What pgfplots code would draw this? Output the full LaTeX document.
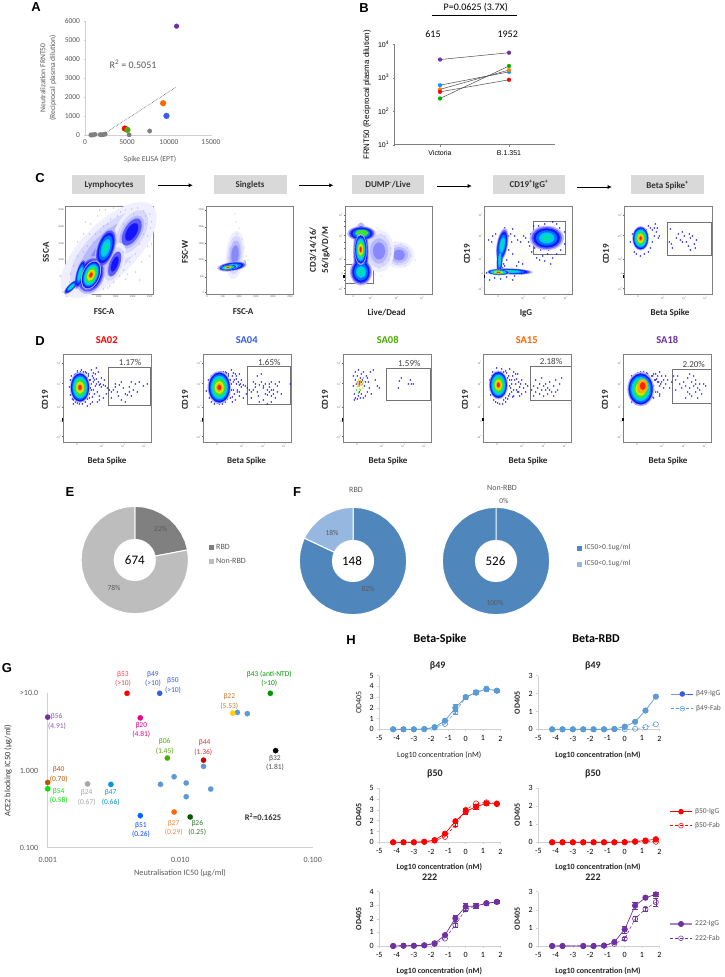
\documentclass[border=0pt]{standalone}
\usepackage{fontspec}
\usepackage{pgfplots}
\pgfplotsset{compat=1.18}
\usetikzlibrary{arrows.meta}
\setmainfont{Carlito}
\newfontfamily\ars{Liberation Sans}
\newcommand\fs[1]{\fontsize{#1}{#1}\selectfont}
% text at reference pixel position
\newcommand\T[4][]{\node[inner sep=0pt,#1] at (#2pt,{(977-#3)*1pt}) {#4};}
\definecolor{gtxt}{HTML}{595959}
\definecolor{gln}{HTML}{D0D0D0}
\definecolor{cP}{HTML}{7030A0}
\definecolor{cB}{HTML}{5B9BD5}
\definecolor{c1}{HTML}{1414FF}
\definecolor{c2}{HTML}{0070FF}
\definecolor{c3}{HTML}{00C8FF}
\definecolor{c4}{HTML}{00E0A0}
\definecolor{c5}{HTML}{40E030}
\definecolor{c6}{HTML}{D0F000}
\definecolor{c7}{HTML}{FFB000}
\definecolor{c8}{HTML}{FF2000}
% one density level: x y rx ry rot factor colour
\newcommand\lv[7]{\addplot[forget plot,only marks,mark=*,mark size=#6*#4pt,mark options={draw=#7,fill=#7,line width=.1pt,rotate=#5,xscale=#3/#4}] coordinates {(#1,#2)};}
\newcommand\dens[5]{\lv{#1}{#2}{#3}{#4}{#5}{1.1}{c1!35}\lv{#1}{#2}{#3}{#4}{#5}{1}{c1}\lv{#1}{#2}{#3}{#4}{#5}{.88}{c2}\lv{#1}{#2}{#3}{#4}{#5}{.77}{c3}\lv{#1}{#2}{#3}{#4}{#5}{.66}{c4}\lv{#1}{#2}{#3}{#4}{#5}{.54}{c5}\lv{#1}{#2}{#3}{#4}{#5}{.42}{c6}\lv{#1}{#2}{#3}{#4}{#5}{.3}{c7}\lv{#1}{#2}{#3}{#4}{#5}{.18}{c8}}
% several shapes merged into one silhouette, level by level
\newcommand\passes[1]{%
 \def\S##1##2##3##4##5{\lv{##1}{##2}{##3}{##4}{##5}{1.22}{c1!30}}#1%
 \def\S##1##2##3##4##5{\lv{##1}{##2}{##3}{##4}{##5}{1.08}{c1!70}}#1%
 \def\S##1##2##3##4##5{\lv{##1}{##2}{##3}{##4}{##5}{.94}{c1}}#1%
 \def\S##1##2##3##4##5{\lv{##1}{##2}{##3}{##4}{##5}{.76}{c2}}#1%
 \def\S##1##2##3##4##5{\lv{##1}{##2}{##3}{##4}{##5}{.54}{c3}}#1%
 \def\S##1##2##3##4##5{\lv{##1}{##2}{##3}{##4}{##5}{.32}{c4}}#1}
\newcommand\pale[5]{\lv{#1}{#2}{#3}{#4}{#5}{1}{c1!7}\lv{#1}{#2}{#3}{#4}{#5}{.8}{c1!16}\lv{#1}{#2}{#3}{#4}{#5}{.6}{c1!30}\lv{#1}{#2}{#3}{#4}{#5}{.4}{c1!50}}
\newcommand\pts[3]{\addplot[forget plot,only marks,mark=*,mark size=#2pt,mark options={draw=#1,fill=#1,line width=.1pt}] coordinates {#3};}
\newcommand\gate[1]{\addplot[forget plot,draw=gray!90!black,line width=.6pt,mark=none] coordinates {#1};}
% dots close around the main population of the D plots
\newcommand\halo{\pts{c1}{.7}{(6,55)(7,47)(8,66)(9,60)(10,42)(12,40)(14,39)(16,38)(19,38)(22,40)(24,43)(26,48)(27,54)(28,58)(26,62)(25,66)(23,69)(20,70)(17,70)(14,69)(11,67)(29,45)(30,52)(31,62)(33,63)(35,60)(37,58)(34,50)(36,46)(29,66)(32,68)}}
\pgfplotsset{
 dot/.style={only marks,mark=*,mark size=2.7pt,mark options={draw=#1,fill=#1,line width=.1pt}},
 sq/.style={forget plot,only marks,mark=square*,mark size=2pt,mark options={draw=#1,fill=#1,line width=.1pt}},
 flow/.style={scale only axis,width=87.5pt,height=88pt,xmin=0,xmax=87.5,ymin=0,ymax=88,clip mode=global,axis on top,
  axis line style={draw=gray,line width=.6pt},tick style={draw=gray!80!black,line width=.25pt},tick align=outside,
  major tick length=1.2pt,minor tick length=.8pt,xtick pos=bottom,ytick pos=left,
  tick label style={font=\fs{2.7},text=black!60,inner sep=.5pt},/pgf/number format/assume math mode=true},
 linY/.style={xtick={1,16.7,33,49.7,67,84},xticklabels={0,50K,100K,150K,200K,250K},ytick={1.5,17.3,34,50.7,67.3,84},yticklabels={0,50K,100K,150K,200K,250K}},
 logY/.style={ytick={5.5,20.5,34.7,58.5,79.3},yticklabels={-10\textsuperscript{3},0,10\textsuperscript{3},10\textsuperscript{4},10\textsuperscript{5}},minor ytick={14,17,24,28,46,52,68,73}},
 logX/.style={xtick={13.7,38.5,60,81},xticklabels={0,10\textsuperscript{3},10\textsuperscript{4},10\textsuperscript{5}},minor xtick={4,6,8,10,12,15,17,19,30,34,50,55,72,76}},
 od/.style={scale only axis,width=121pt,xmin=-5,xmax=2,xtick={-5,...,2},axis x line=bottom,axis y line=left,
  axis line style={-,draw=gln,line width=.7pt},tick style={draw=gln,line width=.5pt},tick align=outside,major tick length=2pt,
  tick label style={font=\fs{8}},ymin=0,clip=false,/pgf/number format/assume math mode=true,
  xticklabel style={yshift=-1pt}},
 ig/.style={#1,line width=.7pt,mark=*,mark size=2.7pt,mark options={solid,fill=#1,draw=#1},error bars/.cd,y dir=both,y explicit,error bar style={#1,line width=.5pt}},
 fab/.style={#1,densely dashed,line width=.5pt,mark=o,mark size=2.6pt,mark options={solid,draw=#1,line width=.6pt},error bars/.cd,y dir=both,y explicit,error bar style={solid,#1,line width=.5pt}},
 pie/.style={scale only axis,width=107.4pt,height=107.4pt,xmin=-1,xmax=1,ymin=-1,ymax=1,hide axis,clip=false},
 wedge/.style={forget plot,fill=#1,draw=white,line width=1pt,data cs=polar},
 hole/.style={forget plot,only marks,mark=*,mark size=21pt,mark options={draw=white,fill=white,line width=.1pt}},
 key/.style={scale only axis,width=22pt,xmin=0,xmax=22,ymin=0,hide axis,clip=false},
}
\begin{document}
\begin{tikzpicture}
\path[use as bounding box,fill=white] (0,0) rectangle (724pt,977pt);

% ---- A
\begin{axis}[name=a,at={(85pt,842pt)},anchor=south west,scale only axis,width=126pt,height=113.5pt,
 xmin=0,xmax=15000,ymin=0,ymax=6000,xtick={0,5000,10000,15000},ytick={0,1000,...,6000},axis x line=bottom,axis y line=left,
 axis line style={-,draw=gln,line width=.6pt},tick style={draw=gln},tick align=outside,major tick length=1.5pt,clip=false,
 tick label style={font=\fs{7.5},text=gtxt},scaled ticks=false,/pgf/number format/.cd,1000 sep={},assume math mode=true]
\addplot[black!65,densely dotted,line width=.6pt] coordinates {(2400,100) (10800,2520)};
\addplot[dot=black!50,mark size=2.3pt] coordinates {(700,0)(850,0)(1000,10)(1200,30)(1800,20)(2000,10)(2200,20)(2400,50)(5250,10)(7700,210)};
\addplot[dot=red,mark size=3pt] coordinates {(4750,340)};
\addplot[dot=green!45!black!60!lime,mark size=3pt] coordinates {(5050,270)};
\addplot[dot=orange!80!red,mark size=3pt] coordinates {(9300,1680)};
\addplot[dot=blue!40!cB,mark size=3pt] coordinates {(9700,1010)};
\addplot[dot=cP,mark size=2.5pt] coordinates {(10900,5750)};
\end{axis}

% ---- B
\begin{axis}[at={(394.7pt,832.3pt)},anchor=south west,scale only axis,width=160.3pt,height=100.4pt,
 xmin=-0.657,xmax=1.667,ymin=10,ymax=10000,ymode=log,xtick={0,1},xticklabels={Victoria,B.1.351},
 ytick={10,100,1000,10000},yticklabels={10\textsuperscript{1},10\textsuperscript{2},10\textsuperscript{3},10\textsuperscript{4}},
 minor y tick num=0,yminorticks=false,axis x line=bottom,axis y line=left,axis line style={-,draw=black!50,line width=.6pt},tick style={draw=black!50},tick align=outside,major tick length=2pt,
 tick label style={font=\ars\fs{7}},clip=false]
\addplot[black!70,line width=.5pt,mark=*,mark size=2pt,mark options={draw=cP,fill=cP,line width=.1pt}] coordinates {(0,3500)(1,5600)};
\addplot[black!70,line width=.5pt,mark=*,mark size=2pt,mark options={draw=blue!40!cyan,fill=blue!40!cyan,line width=.1pt}] coordinates {(0,600)(1,1500)};
\addplot[black!70,line width=.5pt,mark=*,mark size=2pt,mark options={draw=orange,fill=orange,line width=.1pt}] coordinates {(0,450)(1,1700)};
\addplot[black!70,line width=.5pt,mark=*,mark size=2pt,mark options={draw=red,fill=red,line width=.1pt}] coordinates {(0,380)(1,870)};
\addplot[black!70,line width=.5pt,mark=*,mark size=2pt,mark options={draw=green!70!black,fill=green!70!black,line width=.1pt}] coordinates {(0,240)(1,2250)};
\end{axis}

% ---- C flow plots
\begin{axis}[flow,linY,at={(65.7pt,683pt)},anchor=south west]
\pale{43}{44}{62}{27}{45}
\pale{66}{62}{16}{30}{-30}
\pale{48}{30}{10}{22}{-20}
\pts{c1!45}{.4}{(5,20)(8,28)(12,38)(18,42)(22,48)(28,52)(30,60)(35,62)(38,68)(42,70)(45,75)(52,78)(55,82)(60,84)(66,85)(72,86)(78,83)(84,80)(80,70)(85,66)(78,60)(74,50)(82,48)(70,40)(64,32)(58,24)(54,18)(48,12)(60,15)(44,8)(38,5)(30,4)(70,22)(76,32)(84,38)(25,70)(18,60)(12,52)(20,72)(32,78)(40,84)(48,86)(58,70)(62,50)(50,50)(55,58)(30,42)(26,38)(35,30)(58,42)(65,55)(72,72)(80,78)(86,72)(10,15)(4,12)(48,62)(44,55)(38,58)(15,30)(24,60)(68,80)(75,65)(82,58)(52,30)(62,20)(42,6)(74,14)(86,50)(34,84)}
\lv{66}{62}{7.5}{15}{-30}{1}{c1!70}\lv{66}{62}{7.5}{15}{-30}{.65}{c1}\lv{49}{30}{5}{13}{-20}{1}{c1!70}\lv{49}{30}{5}{13}{-20}{.6}{c1}
\passes{\S{40}{46}{7.5}{17}{-18}\S{5.5}{7}{2.6}{8}{-45}\S{14.5}{20}{3.4}{13}{-15}\S{25}{19}{11}{16}{-22}}
\dens{25.3}{19}{8}{14}{-22}
\gate{(17.7,10.7)(16.7,20.7)(21.7,30.7)(29.3,34)(36,29)(38.3,20.7)(32.7,12.3)(22.7,8)(17.7,10.7)}
\end{axis}

\begin{axis}[flow,linY,at={(206pt,683pt)},anchor=south west]
\pale{29}{39}{9}{24}{-5}
\pts{c1!45}{.4}{(24,45)(28,52)(31,60)(33,66)(30,72)(34,40)(38,46)(27,38)(22,36)(36,55)(40,38)(42,34)(29,80)}
\passes{\S{26}{27.5}{12}{3.6}{8}}
\dens{22}{26.5}{8}{2.1}{8}
\gate{(14,24)(39.7,28)(39,33.3)(15,27.3)(14,24)}
\end{axis}

\begin{axis}[flow,logY,xtick={8.3,25.7,51.7,77},xticklabels={0,10\textsuperscript{3},10\textsuperscript{4},10\textsuperscript{5}},at={(345pt,683pt)},anchor=south west]
\pale{54}{39}{15}{13}{0}
\pale{34}{43}{15}{21}{0}
\pts{c1!45}{.4}{(32,66)(36,60)(40,58)(34,52)(42,50)(46,46)(50,52)(56,50)(62,46)(66,38)(70,34)(60,28)(52,30)(44,34)(38,30)(34,26)(30,20)(36,18)(46,40)(58,36)}
\passes{\S{16}{22}{9}{11}{0}\S{16}{42}{6.5}{24}{0}\S{16.5}{60.5}{11.5}{6}{0}}
\lv{17}{61}{6.5}{3}{0}{1}{c5}
\dens{15.7}{44.5}{5.5}{14}{0}
\gate{(0,29.7)(28.3,29.7)(28.3,10.7)(0,10.7)}
\end{axis}

\begin{axis}[flow,logY,logX,at={(484.7pt,683pt)},anchor=south west]
\pts{c1}{.7}{(8,58)(11,60)(7,52)(4,54)(22,62)(24,58)(26,60)(20,66)(27,52)(22,48)(24,44)(20,40)(19,30)(18,26)(20,28)(13,36)(22,34)(28,65)(30,58)(33,54)(36,52)(39,58)(41,56)(44,52)(46,60)(45,48)(47,42)(50,62)(50,46)(52,36)(55,34)(58,38)(63,40)(68,36)(66,30)(60,33)(72,40)(76,44)(80,50)(78,58)(75,66)(72,70)(68,72)(60,70)(54,68)(49,68)(80,62)(70,46)(56,44)(64,44)(38,30)(34,32)(28,40)(32,28)(5,14)(10,16)(16,15)(22,17)(30,18)(37,20)(44,21)(46,22)(2,21)(28,14)}
\passes{\S{26}{22.5}{18}{2.4}{-2}\S{15}{34}{2.4}{13}{-3}\S{17.5}{49}{4.5}{14}{-10}\S{62}{56}{14}{10}{0}}
\dens{13.7}{21.7}{10}{2.4}{-2}
\gate{(48.6,72.3)(81,72.3)(81,40)(48.6,40)(48.6,72.3)}
\end{axis}

\begin{axis}[flow,logY,logX,at={(624.3pt,683pt)},anchor=south west]
\pts{c1}{.7}{(8,60)(6,52)(10,42)(12,40)(16,38)(20,40)(24,42)(26,46)(28,52)(30,58)(34,56)(32,62)(30,66)(26,66)(24,68)(22,64)(31,70)(28,64)(33,66)(35,58)(46,65)(45,52)(47,50)(52,56)(54,60)(56,54)(58,52)(60,58)(62,52)(64,48)(66,56)(68,58)(70,50)(72,54)(71,46)(66,44)(48,46)(58,62)(65,60)}
\dens{16.3}{55.7}{7.5}{11}{0}
\gate{(43,71.7)(87.4,71.7)(87.4,38.7)(43,38.7)(43,71.7)}
\end{axis}

% ---- D flow plots
\begin{axis}[flow,logY,logX,at={(63.3pt,535pt)},anchor=south west]
\halo
\pts{c1}{.7}{(7,62)(8,50)(9,43)(10,38)(12,68)(14,71)(18,72)(22,70)(25,68)(28,72)(30,69)(33,74)(35,70)(27,62)(30,60)(33,58)(28,52)(31,48)(26,44)(29,40)(24,36)(27,38)(36,57)(38,55)(40,57)(42,56)(44,54)(46,52)(43,48)(40,44)(36,42)(34,40)(38,64)(41,62)(48,50)(50,52)(52,55)(54,50)(56,57)(58,60)(60,54)(62,48)(64,47)(66,55)(68,60)(70,52)(72,58)(74,50)(76,60)(80,56)(84,58)(58,42)(62,40)(55,46)(66,50)(68,46)(52,58)(48,44)(30,64)(32,56)(24,64)}
\dens{16.7}{54.5}{9}{14}{0}
\gate{(45,74.3)(87.4,74.3)(87.4,36.7)(45,36.7)(45,74.3)}
\end{axis}

\begin{axis}[flow,logY,logX,at={(203.3pt,535pt)},anchor=south west]
\halo
\pts{c1}{.7}{(3,51)(5,62)(6,44)(8,40)(11,38)(14,66)(18,70)(22,70)(25,68)(28,72)(30,69)(33,66)(36,68)(38,62)(27,62)(30,60)(33,58)(28,52)(31,48)(27,44)(29,40)(32,42)(36,57)(38,55)(40,57)(42,56)(44,54)(46,52)(43,48)(40,44)(36,50)(34,52)(48,50)(50,52)(52,55)(54,50)(56,57)(58,60)(60,54)(62,48)(64,47)(66,55)(68,60)(70,52)(72,58)(74,50)(76,60)(78,48)(55,46)(66,50)(68,46)(52,58)(48,44)(60,56)(62,58)(64,52)(66,58)(68,52)(70,48)(72,44)(74,56)(50,60)(54,66)(58,68)(60,42)(64,38)(68,40)(56,40)(87,58)}
\dens{16}{54.5}{10.5}{15}{0}
\gate{(44,75.3)(86.7,75.3)(86.7,37.7)(44,37.7)(44,75.3)}
\end{axis}

\begin{axis}[flow,logY,logX,at={(343.3pt,535pt)},anchor=south west]
\pts{c1}{.7}{(10,66)(12,70)(15,72)(18,68)(20,70)(12,62)(10,56)(11,48)(12,44)(11,42)(14,43)(17,44)(20,44)(22,46)(24,50)(26,54)(25,60)(24,64)(27,70)(30,72)(32,62)(34,56)(36,54)(28,48)(23,66)(13,58)(16,50)(19,62)(21,56)(15,46)(18,48)(22,60)(14,66)(17,64)(56,61)(55,54)(58,64)(65,58)(67,62)(68,58)(70,58)}
\pts{c5}{.7}{(14,60)(16,56)(13,52)(17,52)(19,58)(15,49)(20,64)}
\pts{c6}{.7}{(15,62)(17,59)(14,55)(19,54)(20,60)(16,53)}
\pts{c7}{.8}{(14,58)(17,61)(15,56)(18,57)}
\pts{c8}{.9}{(16,58)(16,60)(18,60)}
\gate{(43.4,73.7)(87,73.7)(87,41.7)(43.4,41.7)(43.4,73.7)}
\end{axis}

\begin{axis}[flow,logY,logX,at={(483.7pt,535pt)},anchor=south west]
\halo
\pts{c1}{.7}{(7,52)(6,62)(9,70)(13,74)(18,73)(22,71)(26,73)(30,70)(34,68)(38,62)(24,64)(28,62)(26,56)(28,50)(25,46)(22,44)(20,42)(32,58)(35,50)(38,48)(40,54)(36,55)(42,58)(44,56)(30,46)(33,52)(42,50)(48,52)(50,56)(52,50)(54,54)(56,58)(58,52)(60,56)(62,58)(64,54)(66,60)(68,50)(70,56)(72,62)(74,52)(76,58)(78,64)(60,46)(64,48)(56,48)(50,46)(52,62)(58,64)(70,46)(66,52)(62,52)(72,50)}
\dens{14.7}{57}{8.5}{13}{0}
\gate{(46.6,76)(87.3,76)(87.3,41.7)(46.6,41.7)(46.6,76)}
\end{axis}

\begin{axis}[flow,logY,logX,at={(623.7pt,535pt)},anchor=south west]
\halo
\pts{c1}{.7}{(5,52)(6,46)(8,40)(12,38)(18,38)(22,38)(26,44)(28,50)(30,56)(32,62)(28,66)(24,68)(20,68)(30,68)(34,66)(36,70)(38,66)(34,60)(36,56)(38,60)(40,54)(42,58)(44,62)(46,54)(48,60)(42,66)(50,66)(52,62)(36,48)(32,50)(30,44)(52,52)(54,66)(56,58)(58,54)(60,60)(62,56)(64,50)(66,54)(64,64)(66,68)(68,60)(70,56)(72,50)(74,54)(76,58)(78,48)(80,58)(82,56)(70,66)(72,62)(74,44)(68,46)(62,44)(66,48)(72,58)(76,52)(40,62)}
\dens{17}{53}{12}{15.5}{0}
\lv{19}{56}{5}{7}{0}{1}{c7}
\lv{19}{56}{5}{7}{0}{.55}{c8}
\gate{(48.6,72.7)(87.6,72.7)(87.6,38.7)(48.6,38.7)(48.6,72.7)}
\end{axis}

% ---- E
\begin{axis}[pie,at={(81.1pt,363.3pt)},anchor=south west]
\addplot[wedge={black!50}] coordinates {(0,0)(90,1)(80,1)(70,1)(60,1)(50,1)(40,1)(30,1)(20,1)(10.8,1)(0,0)};
\addplot[wedge={black!26}] coordinates {(0,0)(10.8,1)(0,1)(-10,1)(-20,1)(-30,1)(-40,1)(-50,1)(-60,1)(-70,1)(-80,1)(-90,1)(-100,1)(-110,1)(-120,1)(-130,1)(-140,1)(-150,1)(-160,1)(-170,1)(-180,1)(-190,1)(-200,1)(-210,1)(-220,1)(-230,1)(-240,1)(-250,1)(-260,1)(-270,1)(0,0)};
\addplot[hole] coordinates {(0,0)};
\addplot[sq=black!50] coordinates {(1.42,.24)};
\addplot[sq=black!26] coordinates {(1.42,-.02)};
\end{axis}

% ---- F
\definecolor{fd}{HTML}{4F87BC}
\definecolor{fl}{HTML}{95B7E0}
\begin{axis}[pie,at={(299.3pt,362.3pt)},anchor=south west]
\addplot[wedge={fd}] coordinates {(0,0)(90,1)(80,1)(70,1)(60,1)(50,1)(40,1)(30,1)(20,1)(10,1)(0,1)(-10,1)(-20,1)(-30,1)(-40,1)(-50,1)(-60,1)(-70,1)(-80,1)(-90,1)(-100,1)(-110,1)(-120,1)(-130,1)(-140,1)(-150,1)(-160,1)(-170,1)(-180,1)(-190,1)(-200,1)(-205.2,1)(0,0)};
\addplot[wedge={fl}] coordinates {(0,0)(154.8,1)(150,1)(140,1)(130,1)(120,1)(110,1)(100,1)(90,1)(0,0)};
\addplot[hole] coordinates {(0,0)};
\end{axis}
\begin{axis}[pie,at={(442.3pt,362.3pt)},anchor=south west]
\addplot[wedge={fd}] coordinates {(0,0)(90,1)(80,1)(70,1)(60,1)(50,1)(40,1)(30,1)(20,1)(10,1)(0,1)(-10,1)(-20,1)(-30,1)(-40,1)(-50,1)(-60,1)(-70,1)(-80,1)(-90,1)(-100,1)(-110,1)(-120,1)(-130,1)(-140,1)(-150,1)(-160,1)(-170,1)(-180,1)(-190,1)(-200,1)(-210,1)(-220,1)(-230,1)(-240,1)(-250,1)(-260,1)(-270,1)(0,0)};
\addplot[hole] coordinates {(0,0)};
\addplot[sq=fd] coordinates {(1.55,.24)};
\addplot[sq=fl] coordinates {(1.55,-.06)};
\end{axis}

% ---- G
\begin{axis}[at={(47.7pt,129.3pt)},anchor=south west,scale only axis,width=265pt,height=154.4pt,xmode=log,ymode=log,
 xmin=.001,xmax=.1,ymin=.1,ymax=10,xtick={.001,.01,.1},xticklabels={0.001,0.010,0.100},ytick={.1,1,10},yticklabels={0.100,1.000,>10.0},
 axis x line=bottom,axis y line=left,x axis line style={-,draw=gln,line width=.6pt},y axis line style={-,draw=gln,line width=1.4pt},
 xminorticks=false,yminorticks=false,major tick length=0pt,clip=false,tick label style={font=\fs{8},text=gtxt},
 xticklabel style={yshift=-6pt},yticklabel style={xshift=-6pt}]
\addplot[dot=cB] coordinates {(.027,5.65)(.0321,5.45)(.015,1.13)(.009,.83)(.0111,.689)(.0071,.662)(.017,.575)(.0111,.458)};
\addplot[dot=red] coordinates {(.00397,10)};
\addplot[dot=blue!40!cB] coordinates {(.007,10)};
\addplot[dot=green!60!black] coordinates {(.0479,10)};
\addplot[dot=yellow!70!orange] coordinates {(.0249,5.53)};
\addplot[dot=cP] coordinates {(.001,4.91)};
\addplot[dot=magenta] coordinates {(.005,4.81)};
\addplot[dot=green!45!black!60!lime] coordinates {(.008,1.45)};
\addplot[dot=red!80!black] coordinates {(.015,1.36)};
\addplot[dot=black] coordinates {(.0525,1.81)};
\addplot[dot=orange!70!black] coordinates {(.001,.70)};
\addplot[dot=green!90!black] coordinates {(.001,.58)};
\addplot[dot=black!35] coordinates {(.002,.67)};
\addplot[dot=cyan!80!blue] coordinates {(.003,.66)};
\addplot[dot=blue!60!cyan] coordinates {(.005,.26)};
\addplot[dot=orange!80!red] coordinates {(.009,.29)};
\addplot[dot=green!35!black] coordinates {(.0119,.25)};
\end{axis}

% ---- H
\begin{axis}[od,at={(379.3pt,247.7pt)},anchor=south west,height=53.6pt,ymax=5,ytick={0,...,5}]
\addplot[ig=cB] coordinates {(-4.2,0)(-3.6,0)(-3,0)(-2.4,.02)(-1.8,.2)(-1.2,.8)(-.6,2)+-(0,.3)(0,3)+-(0,.2)(.6,3.45)+-(0,.2)(1.2,3.75)+-(0,.2)(1.8,3.6)+-(0,.1)};
\addplot[fab=cB] coordinates {(-4.2,0)(-3.6,0)(-3,0)(-2.4,.02)(-1.8,.15)(-1.2,.5)(-.6,1.6)+-(0,.15)(0,3)+-(0,.15)(.6,3.4)(1.2,3.8)+-(0,.15)(1.8,3.6)};
\end{axis}
\begin{axis}[od,at={(538.3pt,247.7pt)},anchor=south west,height=53.6pt,ymax=3,ytick={0,...,3}]
\addplot[fab=cB] coordinates {(-4.2,0)(-3.6,0)(-3,0)(-2.4,0)(-1.8,0)(-1.2,0)(-.6,0)(0,0)(.6,.03)(1.2,.12)(1.8,.28)};
\addplot[ig=cB] coordinates {(-4.2,0)(-3.6,0)(-3,0)(-2.4,0)(-1.8,0)(-1.2,0)(-.6,.02)(0,.15)(.6,.42)(1.2,1.05)(1.8,1.83)};
\end{axis}
\begin{axis}[od,at={(379.3pt,134.7pt)},anchor=south west,height=54pt,ymax=5,ytick={0,...,5}]
\addplot[ig=red] coordinates {(-4.2,0)(-3.6,0)(-3,0)(-2.4,.05)(-1.8,.2)(-1.2,.8)(-.6,1.95)(0,2.85)+-(0,.25)(.6,3.3)+-(0,.2)(1.2,3.6)+-(0,.2)(1.8,3.55)};
\addplot[fab=red] coordinates {(-4.2,0)(-3.6,0)(-3,0)(-2.4,.05)(-1.8,.15)(-1.2,.5)(-.6,1.6)+-(0,.15)(0,3)+-(0,.15)(.6,3.6)(1.2,3.7)+-(0,.15)(1.8,3.6)};
\end{axis}
\begin{axis}[od,at={(538.3pt,134.7pt)},anchor=south west,height=54pt,ymax=3,ytick={0,...,3}]
\addplot[fab=red] coordinates {(-4.2,0)(-3.6,0)(-3,0)(-2.4,0)(-1.8,0)(-1.2,0)(-.6,0)(0,0)(.6,.02)(1.2,.05)(1.8,.03)};
\addplot[ig=red] coordinates {(-4.2,0)(-3.6,0)(-3,0)(-2.4,0)(-1.8,0)(-1.2,0)(-.6,0)(0,.01)(.6,.05)(1.2,.1)(1.8,.17)};
\end{axis}
\begin{axis}[od,at={(379.3pt,31pt)},anchor=south west,height=54.3pt,ymax=4,ytick={0,...,4}]
\addplot[ig=cP] coordinates {(-4.2,0)(-3.6,.02)(-3,.02)(-2.4,.05)(-1.8,.2)(-1.2,.8)(-.6,2.05)+-(0,.2)(0,2.9)+-(0,.25)(.6,2.95)+-(0,.2)(1.2,3.15)+-(0,.15)(1.8,3.25)+-(0,.1)};
\addplot[fab=cP] coordinates {(-4.2,0)(-3.6,.02)(-3,.02)(-2.4,.05)(-1.8,.15)(-1.2,.55)(-.6,1.55)+-(0,.15)(0,2.7)+-(0,.15)(.6,2.95)(1.2,3.15)(1.8,3.25)};
\end{axis}
\begin{axis}[od,at={(538.3pt,31pt)},anchor=south west,height=54.3pt,ymax=3,ytick={0,...,3}]
\addplot[ig=cP] coordinates {(-4.2,0)(-3.6,0)(-2.4,0)(-1.8,0)(-1.2,.02)(-.6,.22)(0,.92)+-(0,.2)(.6,2.23)+-(0,.2)(1.2,2.67)+-(0,.1)(1.8,2.85)+-(0,.1)};
\addplot[fab=cP] coordinates {(-4.2,0)(-3.6,0)(-2.4,0)(-1.8,0)(-1.2,.03)(-.6,.12)(0,.4)+-(0,.1)(.6,1.5)+-(0,.15)(1.2,2.05)+-(0,.1)(1.8,2.42)+-(0,.2)};
\end{axis}

% ---- H legends
\begin{axis}[key,at={(671.3pt,268.3pt)},anchor=south west,height=14.7pt,ymax=14.7]
\addplot[blue!40!cB,line width=.7pt,mark=*,mark size=2.4pt,mark indices={2}] coordinates {(0,14.7)(11,14.7)(22,14.7)};
\addplot[cB,densely dashed,line width=.5pt,mark=o,mark size=2.4pt,mark indices={2},mark options={solid}] coordinates {(0,0)(11,0)(22,0)};
\end{axis}
\begin{axis}[key,at={(670pt,151.3pt)},anchor=south west,height=14pt,ymax=14]
\addplot[red,line width=.7pt,mark=*,mark size=2.4pt,mark indices={2}] coordinates {(0,14)(11,14)(22,14)};
\addplot[red,densely dashed,line width=.5pt,mark=o,mark size=2.4pt,mark indices={2},mark options={solid}] coordinates {(0,0)(11,0)(22,0)};
\end{axis}
\begin{axis}[key,at={(670pt,38.7pt)},anchor=south west,height=14.3pt,ymax=14.3]
\addplot[cP!60,line width=1.2pt,mark=*,mark size=2.4pt,mark indices={2},mark options={fill=cP,draw=cP}] coordinates {(0,14.3)(11,14.3)(22,14.3)};
\addplot[cP,densely dashed,line width=.5pt,mark=o,mark size=2.4pt,mark indices={2},mark options={solid}] coordinates {(0,0)(11,0)(22,0)};
\end{axis}

% ---- black speck on the left frame of the log plots
\foreach \xx/\yy in {343.7/698.5,484/698.5,623.3/698.5,62.3/555.5,202.3/555.5,342.3/555.5,482.7/555.5,622.7/555.5}
 \fill[black] (\xx pt-.4pt,\yy pt) rectangle (\xx pt+.9pt,\yy pt+3pt);

% ---- panel letters
\begin{scope}[every node/.style={font=\ars\bfseries\fs{13}}]
\T{36}{7}{A}\T{364}{8}{B}\T{40}{178}{C}\T{40}{341}{D}\T{70}{492}{E}\T{297}{492}{F}\T{7}{668}{G}\T{351}{640}{H}
\end{scope}

% ---- A text
\begin{scope}[every node/.style={font=\fs{7.6},text=gtxt}]
\T[rotate=90]{42.7}{78}{Neutralization FRNT50}
\T[rotate=90]{53}{78}{(Reciprocal plasma dilution)}
\T{150}{159}{Spike ELISA (EPT)}
\end{scope}
\T[font=\fs{10},text=gtxt]{133}{64}{R\textsuperscript{2} = 0.5051}

% ---- B text
\T[font=\fs{10}]{475.7}{8}{P=0.0625 (3.7X)}
\draw[black,line width=.6pt] (431.7pt,962pt) -- (516.7pt,962pt);
\T[font=\fs{10}]{433}{34}{615}
\T[font=\fs{10}]{507.7}{34}{1952}
\T[rotate=90,font=\ars\fs{7.9}]{367}{95}{FRNT50 (Reciprocal plasma dilution)}

% ---- C headers
\fill[black!15] (72.3pt,782.7pt) rectangle (145.3pt,801.7pt);
\fill[black!15] (214pt,782.7pt) rectangle (286.7pt,801.7pt);
\fill[black!15] (351.7pt,782.7pt) rectangle (424.3pt,801.7pt);
\fill[black!15] (492.7pt,782.7pt) rectangle (565.3pt,801.7pt);
\fill[black!15] (631.3pt,782.7pt) rectangle (704pt,801.7pt);
\begin{scope}[every node/.style={font=\bfseries\fs{9},text=black!80}]
\T{109}{185}{Lymphocytes}\T{250}{185}{Singlets}\T{388}{185}{DUMP\textsuperscript{-}/Live}\T{529}{185}{CD19\textsuperscript{+}IgG\textsuperscript{+}}\T{667.5}{185.5}{Beta Spike\textsuperscript{+}}
\end{scope}
\foreach \xa/\xb/\yy in {158/192.7/791.7,299.3/333.3/791.7,437.3/471.7/791,577/611.7/790}
 \draw[-{Latex[length=4pt,width=4pt]},line width=.6pt] (\xa pt,\yy pt) -- (\xb pt,\yy pt);

% ---- flow labels
\begin{scope}[every node/.style={font=\bfseries\fs{9},text=black!85}]
\T{104}{312}{FSC-A}\T{243}{312}{FSC-A}\T{386.7}{312.7}{Live/Dead}\T{526}{313}{IgG}\T{670}{313}{Beta Spike}
\T[rotate=90]{46}{252}{SSC-A}\T[rotate=90]{185}{252}{FSC-W}
\T[rotate=90]{313}{250}{CD3/14/16/}\T[rotate=90]{325.7}{250}{56/IgA/D/M}
\T[rotate=90]{467}{254}{CD19}\T[rotate=90]{606}{254}{CD19}
\T[rotate=90]{45}{400}{CD19}\T[rotate=90]{185}{400}{CD19}\T[rotate=90]{325}{400}{CD19}\T[rotate=90]{465}{400}{CD19}\T[rotate=90]{605}{400}{CD19}
\T{107}{461}{Beta Spike}\T{246.5}{461}{Beta Spike}\T{388}{461}{Beta Spike}\T{528}{461}{Beta Spike}\T{668}{461}{Beta Spike}
\end{scope}
\begin{scope}[every node/.style={font=\bfseries\fs{10.5}}]
\T[text=red]{106.7}{340}{SA02}
\T[text=blue!40!cB]{246.7}{340}{SA04}
\T[text=green!45!black!60!lime]{387.7}{340}{SA08}
\T[text=orange!80!red]{526.7}{340}{SA15}
\T[text=cP]{667.3}{340}{SA18}
\end{scope}
\begin{scope}[every node/.style={font=\fs{9},text=black!75}]
\T{130}{362}{1.17\%}\T{269.3}{362}{1.65\%}\T{409.3}{363}{1.59\%}\T{551}{361}{2.18\%}\T{693.7}{364}{2.20\%}
\end{scope}

% ---- E F text
\begin{scope}[every node/.style={font=\fs{7.5},text=gtxt}]
\T{160.7}{529}{22\%}\T{114}{588}{78\%}
\T[anchor=west,font=\fs{8}]{216}{547}{RBD}\T[anchor=west,font=\fs{8}]{216}{561}{Non-RBD}
\T{332}{533}{18\%}\T{368}{589}{82\%}\T{495}{603}{100\%}\T{504}{501}{0\%}
\T[font=\fs{8}]{356}{490}{RBD}\T[font=\fs{8}]{502}{488}{Non-RBD}
\T[anchor=west,font=\fs{7.6}]{584.5}{548}{IC50>0.1ug/ml}\T[anchor=west,font=\fs{7.6}]{584.5}{564}{IC50<0.1ug/ml}
\end{scope}
\begin{scope}[every node/.style={font=\fs{13}}]
\T{134.8}{560}{674}\T{352}{561}{148}\T{495.5}{561}{526}
\end{scope}

% ---- G text
\T[font=\fs{8.3},text=gtxt]{180}{872.7}{Neutralisation IC50 (µg/ml)}
\T[rotate=90,font=\fs{8.3},text=black!80]{8}{770.7}{ACE2 blocking IC50 (µg/ml)}
\T[font=\bfseries\fs{8.5},text=black!80]{263}{817}{R\textsuperscript{2}=0.1625}
\begin{scope}
\T[font=\fs{7.5},text=red!75]{123}{674.3}{β53}\T[font=\fs{7.5},text=red!75]{123}{683.3}{(>10)}
\T[font=\fs{7.5},text=blue!40!cB]{153}{674.3}{β49}\T[font=\fs{7.5},text=blue!40!cB]{153}{683.3}{(>10)}
\T[font=\fs{7.5},text=blue!40!cB]{173}{681}{β50}\T[font=\fs{7.5},text=blue!40!cB]{173}{690}{(>10)}
\T[font=\fs{7.5},text=green!60!black]{269.3}{674.3}{β43 (anti-NTD)}\T[font=\fs{7.5},text=green!60!black]{269.3}{683.7}{(>10)}
\T[font=\fs{7.5},text=orange!70!black!80]{229.3}{696.7}{β22}\T[font=\fs{7.5},text=orange!70!black!80]{229.3}{706.3}{(5.53)}
\T[font=\fs{7.5},text=cP!80]{56.7}{717}{β56}\T[font=\fs{7.5},text=cP!80]{57}{726}{(4.91)}
\T[font=\fs{7.5},text=magenta]{141.3}{725.3}{β20}\T[font=\fs{7.5},text=magenta]{141.3}{734.3}{(4.81)}
\T[font=\fs{7.5},text=green!45!black!60!lime]{164.7}{741.7}{β06}\T[font=\fs{7.5},text=green!45!black!60!lime]{164.7}{751}{(1.45)}
\T[font=\fs{7.5},text=red!80!black!80]{204.7}{743}{β44}\T[font=\fs{7.5},text=red!80!black!80]{203.3}{752.3}{(1.36)}
\T[font=\fs{7.5},text=black!70]{275}{758.3}{β32}\T[font=\fs{7.5},text=black!70]{275}{767.3}{(1.81)}
\T[font=\fs{7.5},text=orange!70!black]{58.7}{770}{β40}\T[font=\fs{7.5},text=orange!70!black]{58.7}{779}{(0.70)}
\T[font=\fs{7.5},text=green!90!black]{58.7}{791.7}{β54}\T[font=\fs{7.5},text=green!90!black]{58.7}{800.7}{(0.58)}
\T[font=\fs{7.5},text=black!35]{86.7}{793}{β24}\T[font=\fs{7.5},text=black!35]{86.7}{802}{(0.67)}
\T[font=\fs{7.5},text=cyan!80!blue]{110.7}{793}{β47}\T[font=\fs{7.5},text=cyan!80!blue]{110.7}{802}{(0.66)}
\T[font=\fs{7.5},text=blue!70!cyan]{141}{825.3}{β51}\T[font=\fs{7.5},text=blue!70!cyan]{141}{834.3}{(0.26)}
\T[font=\fs{7.5},text=orange!80!red!80]{173.7}{823.7}{β27}\T[font=\fs{7.5},text=orange!80!red!80]{173.7}{832.7}{(0.29)}
\T[font=\fs{7.5},text=green!35!black!80]{197.3}{823.7}{β26}\T[font=\fs{7.5},text=green!35!black!80]{197.3}{832.7}{(0.25)}
\end{scope}

% ---- H text
\T[font=\bfseries\fs{12}]{440}{639}{Beta-Spike}
\T[font=\bfseries\fs{12}]{596}{639}{Beta-RBD}
\begin{scope}[every node/.style={font=\bfseries\fs{10},text=black!85}]
\T{437.7}{665.7}{β49}\T{593}{666}{β49}\T{435}{773.7}{β50}\T{593}{773.7}{β50}\T{429.7}{877.7}{222}\T{593}{877.7}{222}
\end{scope}
\begin{scope}[every node/.style={font=\bfseries\fs{8},text=black!85}]
\T[rotate=90,font=\fs{8}]{358.7}{702.7}{OD405}\T[rotate=90]{517.3}{702.7}{OD405}
\T[rotate=90]{358.7}{815}{OD405}\T[rotate=90]{517.3}{815}{OD405}
\T[rotate=90]{358.7}{919}{OD405}\T[rotate=90]{517.3}{919}{OD405}
\T[font=\fs{8}]{439.3}{755}{Log10 concentration (nM)}\T{598}{755}{Log10 concentration (nM)}
\T{439.3}{867.7}{Log10 concentration (nM)}\T{598}{867.7}{Log10 concentration (nM)}
\T{439.3}{971.7}{Log10 concentration (nM)}\T{598}{971.7}{Log10 concentration (nM)}
\end{scope}
\begin{scope}[every node/.style={anchor=west,font=\fs{7.5},text=gtxt}]
\T{696}{694}{β49-IgG}\T{696}{708.7}{β49-Fab}\T{695}{811.7}{β50-IgG}\T{695}{825.7}{β50-Fab}\T{695}{924}{222-IgG}\T{695}{938.3}{222-Fab}
\end{scope}
\end{tikzpicture}
\end{document}
